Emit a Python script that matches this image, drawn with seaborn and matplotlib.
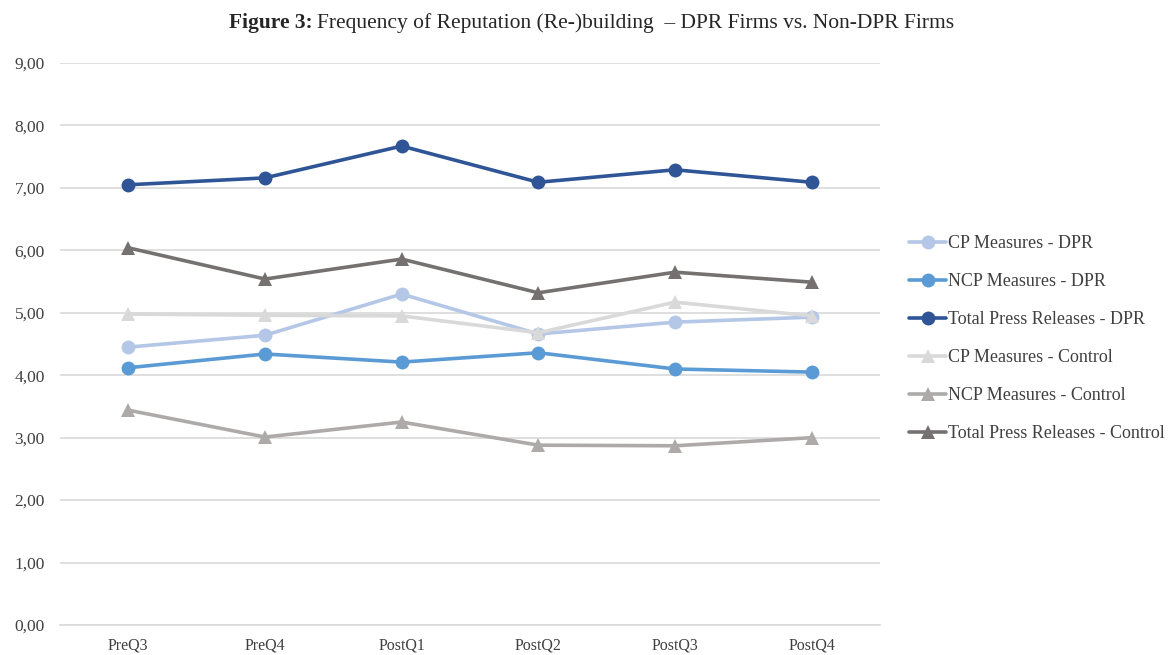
import matplotlib
matplotlib.use("Agg")
import matplotlib.pyplot as plt
import seaborn as sns
import pandas as pd

quarters = ["PreQ3", "PreQ4", "PostQ1", "PostQ2", "PostQ3", "PostQ4"]
series_names = ["CP Measures - DPR", "NCP Measures - DPR", "Total Press Releases - DPR",
                "CP Measures - Control", "NCP Measures - Control", "Total Press Releases - Control"]
cp_dpr = [4.45, 4.64, 5.30, 4.66, 4.85, 4.93]
ncp_dpr = [4.12, 4.34, 4.21, 4.36, 4.10, 4.05]
total_dpr = [7.05, 7.16, 7.67, 7.09, 7.29, 7.09]
cp_control = [4.98, 4.96, 4.95, 4.68, 5.17, 4.95]
ncp_control = [3.44, 3.01, 3.25, 2.88, 2.87, 3.00]
total_control = [6.04, 5.54, 5.86, 5.32, 5.65, 5.49]
yticks = [0, 1, 2, 3, 4, 5, 6, 7, 8, 9]

colors = ["#B4C7E7", "#5B9BD5", "#2F5597", "#D9D9D9", "#AEAAAA", "#767171"]
markers = ["o", "o", "o", "^", "^", "^"]

values = [cp_dpr, ncp_dpr, total_dpr, cp_control, ncp_control, total_control]
rows = []
for name, vals in zip(series_names, values):
    for i, v in enumerate(vals):
        rows.append({"series": name, "x": i, "value": v})
df = pd.DataFrame(rows)

sns.set_theme(style="white")
plt.rcParams["font.family"] = ["Liberation Serif", "DejaVu Serif"]

fig = plt.figure(figsize=(11.68, 6.55), dpi=100)
ax = fig.add_axes([60/1168, 30/655, 820/1168, 562/655])

sns.lineplot(data=df, x="x", y="value", hue="series", style="series",
             hue_order=series_names, style_order=series_names,
             palette=dict(zip(series_names, colors)),
             markers=dict(zip(series_names, markers)),
             dashes=False, linewidth=2.6, markersize=10, markeredgewidth=0,
             ax=ax, legend=True)

ax.set_xlim(-0.5, 5.5)
ax.set_ylim(0, 9)
ax.set_yticks(yticks)
ax.set_yticklabels([f"{t:.2f}".replace(".", ",") for t in yticks], fontsize=12.5, color="#404040")
ax.set_xticks(range(len(quarters)))
ax.set_xticklabels(quarters, fontsize=11.5, color="#404040")
ax.set_xlabel("")
ax.set_ylabel("")
ax.grid(axis="y", color="#D9D9D9", linewidth=1.2)
ax.set_axisbelow(True)
for s in ax.spines.values():
    s.set_visible(False)
ax.spines["bottom"].set_visible(True)
ax.spines["bottom"].set_color("#D9D9D9")
ax.spines["bottom"].set_linewidth(1.2)
ax.tick_params(axis="y", length=0, pad=11)
ax.tick_params(axis="x", length=0, pad=9)

handles, labels = ax.get_legend_handles_labels()
ax.legend(handles, labels, loc="upper left", bbox_to_anchor=(902/1168, 1 - 228/655),
          bbox_transform=fig.transFigure, frameon=False, fontsize=13,
          handlelength=2.05, handletextpad=0.1, labelspacing=1.16, borderaxespad=0,
          labelcolor="#404040")

fig.text(313/1168, 1 - 23/655, "Figure 3:", ha="right", va="center", fontsize=15.5, fontweight="bold")
fig.text(317/1168, 1 - 23/655, "Frequency of Reputation (Re-)building  \u2013 DPR Firms vs. Non-DPR Firms",
         ha="left", va="center", fontsize=15.5)

fig.savefig("out.png", dpi=100)
